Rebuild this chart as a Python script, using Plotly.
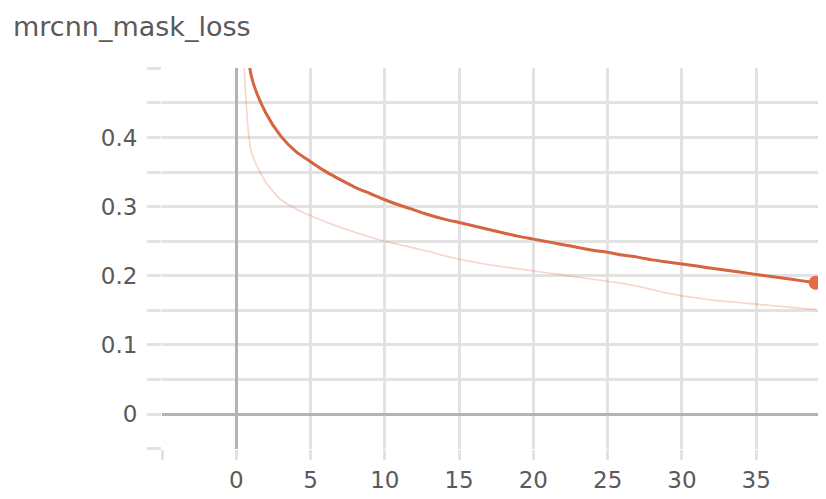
import plotly.graph_objects as go

steps = list(range(40))
raw_loss = [0.85, 0.38, 0.335, 0.31, 0.297, 0.287, 0.278, 0.270, 0.263, 0.256,
            0.250, 0.245, 0.240, 0.235, 0.229, 0.224, 0.220, 0.216, 0.213, 0.210,
            0.207, 0.204, 0.201, 0.198, 0.195, 0.192, 0.189, 0.185, 0.180, 0.175,
            0.171, 0.168, 0.165, 0.163, 0.161, 0.159, 0.157, 0.155, 0.153, 0.151]
smoothed_loss = [0.85, 0.49, 0.435, 0.402, 0.38, 0.365, 0.351, 0.339, 0.328, 0.319,
                 0.310, 0.302, 0.295, 0.288, 0.282, 0.277, 0.272, 0.267, 0.262, 0.257,
                 0.253, 0.249, 0.245, 0.241, 0.237, 0.234, 0.230, 0.227, 0.223, 0.220,
                 0.217, 0.214, 0.211, 0.208, 0.205, 0.202, 0.199, 0.196, 0.193, 0.190]

x_tickvals = [-5, 0, 5, 10, 15, 20, 25, 30, 35]
x_ticktext = ["", "0", "5", "10", "15", "20", "25", "30", "35"]
y_tickvals = [-0.05, 0, 0.05, 0.1, 0.15, 0.2, 0.25, 0.3, 0.35, 0.4, 0.45, 0.5]
y_ticktext = ["", "0", "", "0.1", "", "0.2", "", "0.3", "", "0.4", "", ""]

title_text = "mrcnn_mask_loss"

grid_c = "#e2e2e2"
font_c = "#5a5a5a"

# page body has an 8px default margin; compensate
W, H = 818, 491

fig = go.Figure()
fig.add_trace(go.Scatter(x=steps, y=raw_loss, mode="lines",
                         line=dict(color="rgba(236,120,90,0.32)", width=1.6,
                                   shape="spline", smoothing=0.6),
                         hoverinfo="skip", showlegend=False))
fig.add_trace(go.Scatter(x=steps, y=smoothed_loss, mode="lines",
                         line=dict(color="#d6643f", width=3,
                                   shape="spline", smoothing=0.8),
                         showlegend=False))
fig.add_trace(go.Scatter(x=[steps[-1]], y=[smoothed_loss[-1]], mode="markers",
                         marker=dict(color="#ea6a45", size=14),
                         showlegend=False, cliponaxis=False))

fig.update_layout(
    width=W, height=H,
    margin=dict(l=154, r=0, t=60, b=50, autoexpand=False),
    paper_bgcolor="white", plot_bgcolor="white",
    font=dict(family="DejaVu Sans", color=font_c, size=23),
    title=dict(text=title_text, xref="container", yref="container",
               x=5 / W, xanchor="left", y=1 - 19 / H, yanchor="middle",
               font=dict(family="DejaVu Sans", size=27, color=font_c)),
)
fig.update_xaxes(range=[-5, 39.7], tickmode="array", tickvals=x_tickvals,
                 ticktext=x_ticktext, showgrid=True, gridcolor=grid_c, gridwidth=2.5,
                 ticks="outside", ticklen=10, tickcolor=grid_c, tickwidth=2.5,
                 ticklabelstandoff=0, automargin=False,
                 zeroline=True, zerolinecolor="#b3b3b3", zerolinewidth=3,
                 showline=False, fixedrange=True)
fig.update_yaxes(range=[-0.0505, 0.5005], tickmode="array", tickvals=y_tickvals,
                 ticktext=y_ticktext, showgrid=True, gridcolor=grid_c, gridwidth=2.5,
                 ticks="outside", ticklen=14, tickcolor=grid_c, tickwidth=2.5,
                 ticklabelstandoff=5, automargin=False,
                 zeroline=True, zerolinecolor="#b3b3b3", zerolinewidth=3,
                 showline=False, fixedrange=True)

fig.write_html("out.html")
